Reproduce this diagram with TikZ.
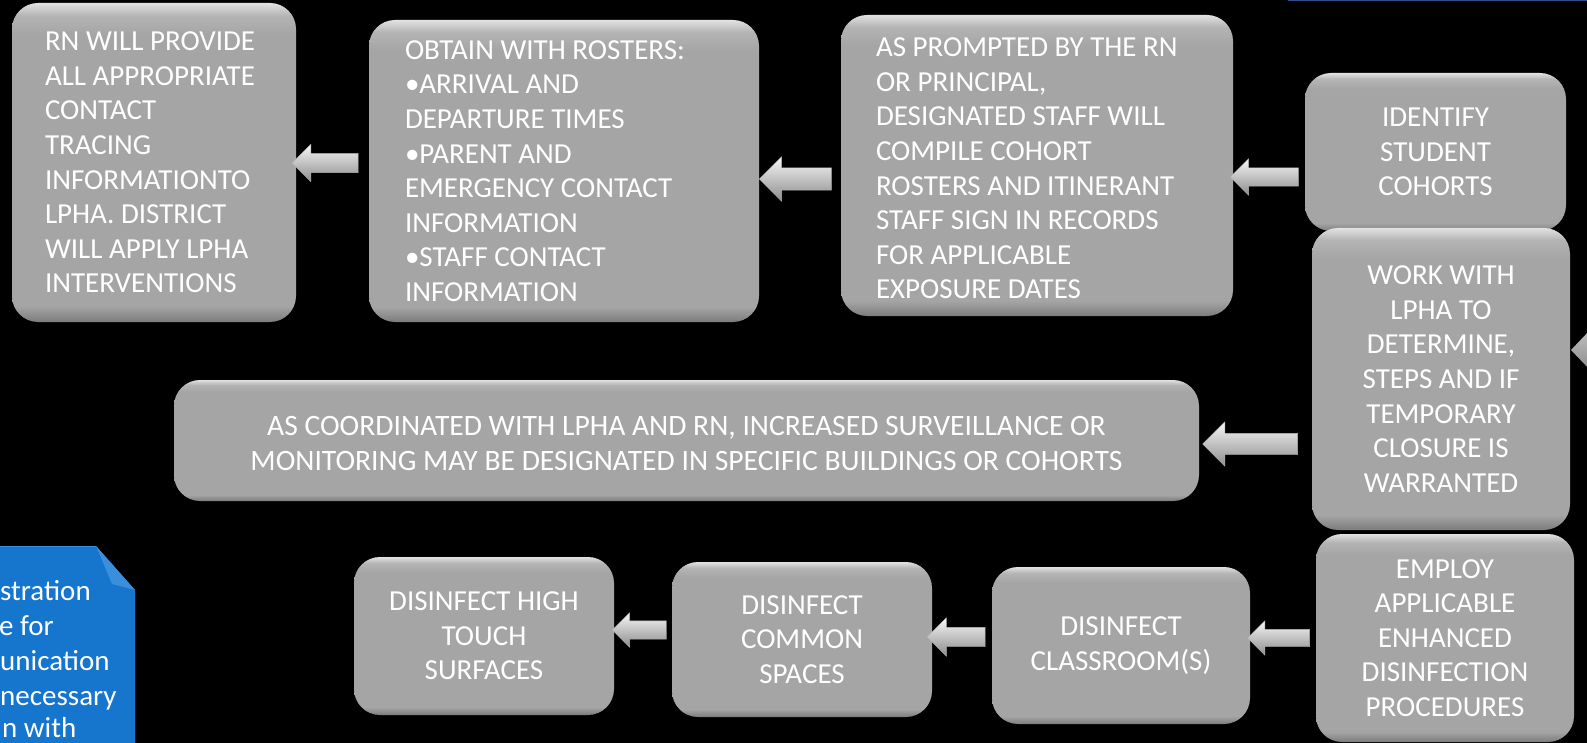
\documentclass[tikz,border=0pt]{standalone}
\usepackage{fontspec}
\setmainfont{Carlito}
\usetikzlibrary{shapes.arrows,calc}
\definecolor{boxtop}{HTML}{E2E2E2}
\definecolor{boxlight}{HTML}{B4B4B4}
\definecolor{boxmid}{HTML}{A5A5A5}
\definecolor{boxdark}{HTML}{7C7C7C}
\definecolor{bluebox}{HTML}{1675CC}
\definecolor{bluelight}{HTML}{3A8EDB}
\definecolor{topline}{HTML}{2D4E8E}
\pgfdeclareverticalshading{glossybox}{100bp}{color(0bp)=(boxdark); color(25bp)=(boxdark); color(27.5bp)=(boxmid); color(70bp)=(boxmid); color(73bp)=(boxlight); color(75bp)=(boxtop); color(100bp)=(boxtop)}
\newcommand{\boxfont}{\fontsize{29}{34.6}\selectfont}
\newcommand{\widefont}{\fontsize{29.6}{34.6}\selectfont}
\tikzset{
  gbox/.style={rectangle, rounded corners=26, shading=glossybox, text=white, font=\boxfont, inner sep=0pt},
  midbox/.style={gbox, align=center},
  boxtext/.style={text=white, font=\boxfont, inner sep=0pt, align=left, anchor=west},
  blockarrow/.style={single arrow, shape border rotate=180, inner xsep=0pt,
    top color=white!97!black, bottom color=black!45!white, draw=black!30!white, line width=0.4pt},
  bluetext/.style={text=white, font=\boxfont, inner sep=0pt, anchor=base west}
}
\begin{document}
\begin{tikzpicture}[x=1pt,y=-1pt]
\useasboundingbox (0,0) rectangle (1587,743);
\clip (0,0) rectangle (1587,743);
\fill[black] (0,0) rectangle (1587,743);
\draw[topline, line width=2pt] (1288,0.5) -- (1587,0.5);

% boxes
\node[gbox, minimum width=284, minimum height=319] (a) at (154,162.5) {};
\node[boxtext] (at) at ($(a.west)+(33,0)$)
 {RN WILL PROVIDE\\ALL APPROPRIATE\\CONTACT\\TRACING\\INFORMATIONTO\\LPHA. DISTRICT\\WILL APPLY LPHA\\INTERVENTIONS};
\node[gbox, minimum width=390, minimum height=302] (b) at (564,171) {};
\node[boxtext] (bt) at ($(b.west)+(36,0)$)
 {OBTAIN WITH ROSTERS:\\•ARRIVAL AND\\DEPARTURE TIMES\\•PARENT AND\\EMERGENCY CONTACT\\INFORMATION\\•STAFF CONTACT\\INFORMATION};
\node[gbox, minimum width=392, minimum height=301] (c) at (1037,165.5) {};
\node[boxtext] (ct) at ($(c.west)+(35,3)$)
 {AS PROMPTED BY THE RN\\OR PRINCIPAL,\\DESIGNATED STAFF WILL\\COMPILE COHORT\\ROSTERS AND ITINERANT\\STAFF SIGN IN RECORDS\\FOR APPLICABLE\\EXPOSURE DATES};
\node[midbox, minimum width=261, minimum height=158] (d) at (1435.5,152)
 {IDENTIFY\\STUDENT\\COHORTS};
\node[midbox, minimum width=258, minimum height=302] (e) at (1441,379)
 {WORK WITH\\LPHA TO\\DETERMINE,\\STEPS AND IF\\TEMPORARY\\CLOSURE IS\\WARRANTED};
\node[gbox, minimum width=1025, minimum height=121] (f) at (686.5,440.5) {};
\node[text=white, font=\widefont, inner sep=0pt, align=center] (ft) at ($(f.center)+(0,3)$)
 {AS COORDINATED WITH LPHA AND RN, INCREASED SURVEILLANCE OR\\MONITORING MAY BE DESIGNATED IN SPECIFIC BUILDINGS OR COHORTS};
\node[midbox, minimum width=258, minimum height=208] (g) at (1445,638)
 {EMPLOY\\APPLICABLE\\ENHANCED\\DISINFECTION\\PROCEDURES};
\node[midbox, minimum width=258, minimum height=157] (h) at (1121,645.5)
 {DISINFECT\\CLASSROOM(S)};
\node[midbox, minimum width=260, minimum height=155] (i) at (802,639.5)
 {DISINFECT\\COMMON\\SPACES};
\node[midbox, minimum width=260, minimum height=158] (j) at (484,636)
 {DISINFECT HIGH\\TOUCH\\SURFACES};

% block arrows (inner ysep = half shaft width)
\node[blockarrow, minimum height=66, inner ysep=9.5, single arrow head extend=9] (ab) at (330,163) {};
\node[blockarrow, minimum height=72, inner ysep=11, single arrow head extend=11] (bc) at (801,179) {};
\node[blockarrow, minimum height=68, inner ysep=9, single arrow head extend=9] (cd) at (1269,177) {};
\node[blockarrow, minimum height=95, inner ysep=10.5, single arrow head extend=11.5] (fe) at (1255.5,444) {};
\node[blockarrow, minimum height=62, inner ysep=8.5, single arrow head extend=8.5] (hg) at (1283,638) {};
\node[blockarrow, minimum height=58, inner ysep=9.5, single arrow head extend=9.5] (ih) at (961,637) {};
\node[blockarrow, minimum height=54, inner ysep=9, single arrow head extend=8] (ji) at (644,630) {};

% partial arrow head at right edge
\shade[top color=black!25!white, bottom color=black!45!white] (1571,350) -- (1590,330) -- (1590,370) -- cycle;

% blue box at bottom left
\fill[bluebox] (-20,546) -- (96,546) -- (135,590) -- (135,760) -- (-20,760) -- cycle;
\fill[bluelight] (96,546) -- (135,590) -- (112,584) -- cycle;
\draw[bluelight, line width=1pt] (-20,546.5) -- (96,546.5);
\node[bluetext] (bl1) at (0,600) {stration};
\node[bluetext] (bl2) at (-1,635) {e for};
\node[bluetext] (bl3) at (0,670) {unication};
\node[bluetext] (bl4) at (0,705) {necessary};
\node[bluetext] (bl5) at (2,737) {n with};
\end{tikzpicture}
\end{document}
